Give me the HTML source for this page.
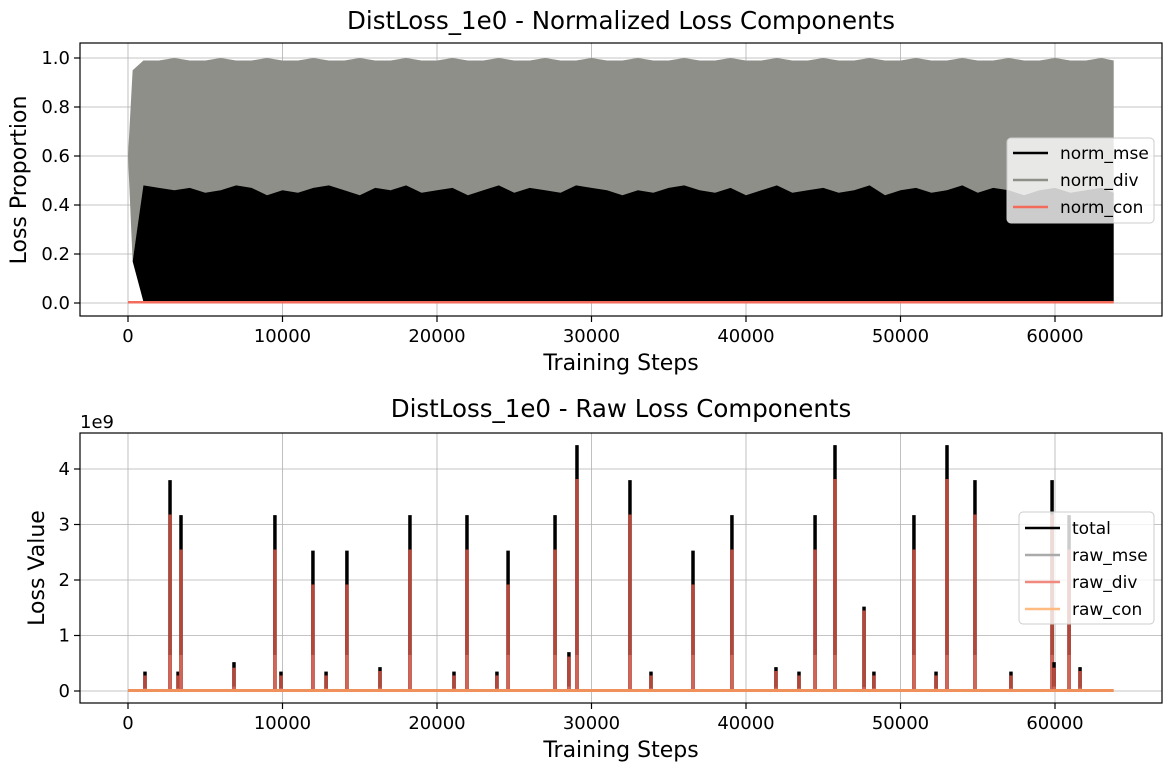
<!DOCTYPE html>
<html><head><meta charset="utf-8">
<style>
body{margin:0;background:#fff;width:1172px;height:771px;overflow:hidden;font-family:"Liberation Sans","DejaVu Sans",sans-serif}
svg text{font-family:"DejaVu Sans","Liberation Sans",sans-serif}
</style></head>
<body>
<svg id="chart" width="1172" height="771" viewBox="0 0 1172 771" xmlns="http://www.w3.org/2000/svg"></svg>
<script>
// ---- data ----
const xTicks = [0,10000,20000,30000,40000,50000,60000];
const topYTicks = [0.0,0.2,0.4,0.6,0.8,1.0];
const botYTicks = [0,1,2,3,4];
const normSteps = [0,300,1000,2000,3000,4000,5000,6000,7000,8000,9000,10000,11000,12000,13000,14000,15000,16000,17000,18000,19000,20000,21000,22000,23000,24000,25000,26000,27000,28000,29000,30000,31000,32000,33000,34000,35000,36000,37000,38000,39000,40000,41000,42000,43000,44000,45000,46000,47000,48000,49000,50000,51000,52000,53000,54000,55000,56000,57000,58000,59000,60000,61000,62000,63000,63800];
const mseTop = [0.6,0.17,0.48,0.47,0.46,0.47,0.45,0.46,0.48,0.47,0.44,0.46,0.45,0.47,0.48,0.46,0.44,0.47,0.46,0.48,0.45,0.46,0.47,0.44,0.46,0.48,0.45,0.47,0.46,0.45,0.48,0.47,0.46,0.44,0.46,0.45,0.47,0.48,0.46,0.45,0.47,0.44,0.46,0.48,0.45,0.46,0.47,0.45,0.46,0.48,0.44,0.46,0.47,0.45,0.46,0.48,0.45,0.47,0.46,0.44,0.46,0.47,0.45,0.46,0.47,0.45];
const divBottom = [0.6,0.17,0.47,0.46,0.44,0.45,0.43,0.46,0.47,0.45,0.43,0.45,0.44,0.46,0.47,0.45,0.43,0.45,0.46,0.47,0.44,0.45,0.46,0.43,0.45,0.47,0.44,0.46,0.45,0.44,0.47,0.46,0.45,0.43,0.45,0.44,0.46,0.47,0.45,0.44,0.46,0.43,0.45,0.47,0.44,0.45,0.46,0.44,0.45,0.47,0.43,0.45,0.46,0.44,0.45,0.47,0.44,0.46,0.45,0.43,0.45,0.46,0.44,0.45,0.46,0.44];
const divTop = [0.6,0.95,0.99,0.99,1.0,0.99,0.99,1.0,0.99,0.99,1.0,0.99,0.99,1.0,0.99,0.99,1.0,0.99,0.99,1.0,0.99,0.99,1.0,0.99,0.99,1.0,0.99,0.99,1.0,0.99,0.99,1.0,0.99,0.99,1.0,0.99,0.99,1.0,0.99,0.99,1.0,0.99,0.99,1.0,0.99,0.99,1.0,0.99,0.99,1.0,0.99,0.99,1.0,0.99,0.99,1.0,0.99,0.99,1.0,0.99,0.99,1.0,0.99,0.99,1.0,0.99];
const divDipSteps = [1500,2300,3700,4900,6000,7300,8200,9100,10400,11800,13500,15100,16800,18200,19500,21000,22700,24000,25000,26300,27200,28600,29800,31400,33000,34300,35600,37000,38400,39700,41000,42500,43700,45200,47000,48300,49500,50900,52300,53800,55600,56900,58000,59500,61200,62900];
const divDipValues = [0.3,0.36,0.35,0.4,0.38,0.36,0.34,0.39,0.33,0.37,0.36,0.4,0.37,0.35,0.32,0.38,0.35,0.39,0.33,0.37,0.36,0.34,0.39,0.37,0.34,0.38,0.37,0.35,0.35,0.39,0.33,0.37,0.36,0.38,0.32,0.36,0.38,0.35,0.31,0.37,0.35,0.39,0.34,0.36,0.33,0.36];
const spikeSteps = [1100,2720,3240,3430,6860,9510,9900,11970,12820,14170,16310,18250,21100,21940,23880,24600,27640,28540,29060,32490,33850,36570,39090,41940,43430,44470,45760,47640,48280,50870,52300,53010,54820,57150,59810,59940,60910,61620];
const spikeTotal = [0.35,3.8,0.35,3.17,0.52,3.17,0.35,2.53,0.35,2.53,0.43,3.17,0.35,3.17,0.35,2.53,3.17,0.7,4.43,3.8,0.35,2.53,3.17,0.43,0.35,3.17,4.43,1.52,0.35,3.17,0.35,4.43,3.8,0.35,3.8,0.52,3.17,0.43];
const spikeDiv = [0.28,3.18,0.28,2.55,0.42,2.55,0.28,1.92,0.28,1.92,0.36,2.55,0.28,2.55,0.28,1.92,2.55,0.62,3.82,3.18,0.28,1.92,2.55,0.36,0.28,2.55,3.82,1.45,0.28,2.55,0.28,3.82,3.18,0.28,3.18,0.42,2.55,0.36];
const spikeMse = [0.05,0.65,0.05,0.65,0.08,0.65,0.05,0.65,0.05,0.65,0.06,0.65,0.05,0.65,0.05,0.65,0.65,0.08,0.65,0.65,0.05,0.65,0.65,0.06,0.05,0.65,0.65,0.07,0.05,0.65,0.05,0.65,0.65,0.05,0.65,0.08,0.65,0.06];

const svg = document.getElementById('chart');
const NS = 'http://www.w3.org/2000/svg';
function mk(tag, attrs, parent){const e=document.createElementNS(NS,tag);for(const k in attrs)e.setAttribute(k,attrs[k]);(parent||svg).appendChild(e);return e;}
const X0=80, X1=1162;
function xs(v){return 128 + v*927/60000;}
function yTop(v){return 303 - v*245;}
function yBot(v){return 691 - v*55.5;}

function axes(top,bottom,ysc,yt,fmt,name){
  const g=mk('g',{});
  
  
  xTicks.forEach(t=>{const x=xs(t);
    const l=mk('line',{x1:x,x2:x,y1:top,y2:bottom,stroke:'#b0b0b0','stroke-width':0.8},g);
    
    mk('line',{x1:x,x2:x,y1:bottom,y2:bottom+6,stroke:'#000','stroke-width':1.2},g);
    const tx=mk('text',{x:x,y:bottom+26,'font-size':18,'text-anchor':'middle'},g);tx.textContent=t;
    
  });
  yt.forEach(t=>{const y=ysc(t);
    const l=mk('line',{x1:X0,x2:X1,y1:y,y2:y,stroke:'#b0b0b0','stroke-width':0.8},g);
    
    mk('line',{x1:X0-6,x2:X0,y1:y,y2:y,stroke:'#000','stroke-width':1.2},g);
    const tx=mk('text',{x:X0-10,y:y+6,'font-size':18,'text-anchor':'end'},g);tx.textContent=fmt(t);
    
  });
  return g;
}
function frame(top,bottom){const r=mk('rect',{x:X0,y:top,width:X1-X0,height:bottom-top,fill:'none',stroke:'#000','stroke-width':1.2});
  }
function text(x,y,s,size,name,extra){const t=mk('text',Object.assign({x:x,y:y,'font-size':size,'text-anchor':'middle'},extra||{}));t.textContent=s;
  return t;}

// ---- top chart ----
const T0=43,T1=316;
axes(T0,T1,yTop,topYTicks,v=>v.toFixed(1),'top-axes');
let pts=[];
normSteps.forEach((s,i)=>pts.push(xs(s)+','+yTop(divTop[i])));
for(let i=normSteps.length-1;i>=0;i--)pts.push(xs(normSteps[i])+','+yTop(divBottom[i]));
const dv=mk('polygon',{points:pts.join(' '),fill:'#8e8f88'});

divDipSteps.forEach((s,i)=>{const l=mk('line',{x1:xs(s),x2:xs(s),y1:yTop(0.46),y2:yTop(divDipValues[i]),stroke:'#8e8f88','stroke-width':2});
  });
pts=[];
normSteps.forEach((s,i)=>pts.push(xs(s)+','+yTop(mseTop[i])));
for(let i=normSteps.length-1;i>=0;i--)pts.push(xs(normSteps[i])+','+yTop(i<2?mseTop[i]:0.005));
const ms=mk('polygon',{points:pts.join(' '),fill:'#000'});

const nc=mk('line',{x1:xs(0),x2:xs(63800),y1:yTop(0.003),y2:yTop(0.003),stroke:'#f26b5b','stroke-width':2.5});

frame(T0,T1);
text(621,29,'DistLoss_1e0 - Normalized Loss Components',24.5,'top-chart-title');
text(621,370,'Training Steps',22,'top-x-axis-title');
text(26,180,'Loss Proportion',22,'top-y-axis-title',{transform:'rotate(-90 26 180)'});
(function(){const g=mk('g',{});
  mk('rect',{x:1007,y:138,width:147,height:85,rx:4,fill:'rgba(255,255,255,0.8)',stroke:'#ccc'},g);
  [['norm_mse','#000'],['norm_div','#8e8f88'],['norm_con','#f26b5b']].forEach((e,i)=>{const y=153+i*27;
    mk('line',{x1:1013,x2:1048,y1:y,y2:y,stroke:e[1],'stroke-width':2.5},g);
    const t=mk('text',{x:1060,y:y+6,'font-size':17},g);t.textContent=e[0];
    });})();

// ---- bottom chart ----
const B0=433,B1=703;
axes(B0,B1,yBot,botYTicks,v=>String(v),'bottom-axes');
spikeSteps.forEach((s,i)=>{const x=xs(s);
  let l=mk('line',{x1:x,x2:x,y1:yBot(0),y2:yBot(spikeTotal[i]),stroke:'#000','stroke-width':3.5});
  
  l=mk('line',{x1:x,x2:x,y1:yBot(0),y2:yBot(spikeDiv[i]),stroke:'#b5473a','stroke-width':3.5});
  
  l=mk('line',{x1:x,x2:x,y1:yBot(0),y2:yBot(spikeMse[i]),stroke:'#d06558','stroke-width':3.5});
  
});
const rc=mk('line',{x1:xs(0),x2:xs(63800),y1:yBot(0.01),y2:yBot(0.01),stroke:'#f0905a','stroke-width':3});

frame(B0,B1);
text(621,417,'DistLoss_1e0 - Raw Loss Components',24.5,'bottom-chart-title');
text(621,757,'Training Steps',22,'bottom-x-axis-title');
text(44,568,'Loss Value',22,'bottom-y-axis-title',{transform:'rotate(-90 44 568)'});
text(80,428,'1e9',18,'y-offset-label',{'text-anchor':'start'});
(function(){const g=mk('g',{});
  mk('rect',{x:1019,y:512,width:135,height:112,rx:4,fill:'rgba(255,255,255,0.8)',stroke:'#ccc'},g);
  [['total','#000'],['raw_mse','#aaaaaa'],['raw_div','#f08a80'],['raw_con','#ffbb80']].forEach((e,i)=>{const y=528+i*27;
    mk('line',{x1:1025,x2:1060,y1:y,y2:y,stroke:e[1],'stroke-width':2.5},g);
    const t=mk('text',{x:1072,y:y+6,'font-size':17},g);t.textContent=e[0];
    });})();
</script>
</body></html>
